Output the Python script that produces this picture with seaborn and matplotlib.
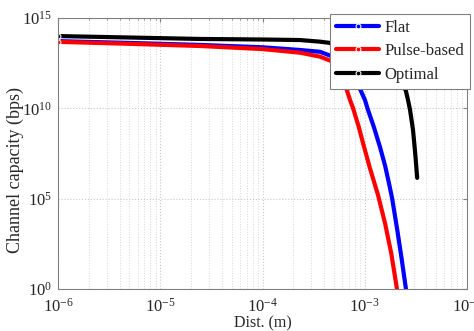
import numpy as np
import pandas as pd
import matplotlib
matplotlib.use("Agg")
import matplotlib.pyplot as plt
import seaborn as sns

# values (log10 of distance in m, log10 of capacity in bps)
flat_logd = [-6.0, -5.3, -4.611, -4.0, -3.633, -3.438, -3.311, -3.225, -3.13, -3.042,
             -2.998, -2.968, -2.91, -2.851, -2.80, -2.763, -2.733, -2.68, -2.64, -2.597]
flat_logc = [13.72, 13.62, 13.51, 13.38, 13.23, 13.13, 12.86, 12.40, 11.75, 11.02,
             10.46, 9.91, 8.95, 7.86, 6.80, 5.85, 5.04, 3.20, 1.70, 0.0]

pulse_logd = [-6.0, -5.3, -4.611, -4.0, -3.633, -3.438, -3.311, -3.225, -3.176, -3.144,
              -3.115, -3.06, -3.017, -2.95, -2.87, -2.80, -2.74, -2.685]
pulse_logc = [13.68, 13.57, 13.45, 13.28, 13.08, 12.86, 12.58, 11.96, 11.02, 10.46,
              10.02, 9.00, 8.08, 6.70, 5.20, 3.60, 1.95, 0.0]

opt_logd = [-6.0, -5.3, -4.611, -4.0, -3.633, -3.438, -3.34, -3.225, -3.1, -2.95,
            -2.8, -2.7, -2.63, -2.60, -2.577, -2.557, -2.528, -2.508, -2.487]
opt_logc = [14.00, 13.92, 13.84, 13.81, 13.78, 13.69, 13.62, 13.14, 12.70, 12.30,
            11.85, 11.50, 11.20, 11.02, 10.46, 9.91, 8.80, 7.60, 6.15]

series_names = ["Flat", "Pulse-based", "Optimal"]
series_colors = ["#0000ff", "#ff0000", "#000000"]

sns.set_style("white")
plt.rcParams["font.family"] = ["Liberation Serif", "DejaVu Serif"]
plt.rcParams["mathtext.fontset"] = "stix"

fig = plt.figure(figsize=(4.74, 3.31), dpi=100)
ax = fig.add_axes([58 / 474, 1 - 289 / 331, (467 - 58) / 474, (289 - 18) / 331])
ax.set_xscale("log")
ax.set_yscale("log")

data = [(flat_logd, flat_logc), (pulse_logd, pulse_logc), (opt_logd, opt_logc)]
for (ld, lc), name, col in zip(data, series_names, series_colors):
    df = pd.DataFrame({"d": 10.0 ** np.array(ld), "c": 10.0 ** np.array(lc)})
    sns.lineplot(data=df, x="d", y="c", ax=ax, color=col, lw=3, label=name,
                 marker=".", markersize=7, markevery=[0], sort=False,
                 estimator=None, solid_capstyle="round")

ax.set_xlim(1e-6, 1e-2)
ax.set_ylim(1e0, 1e15)
ax.set_xticks([1e-6, 1e-5, 1e-4, 1e-3, 1e-2])
ax.set_yticks([1e0, 1e5, 1e10, 1e15])
ax.yaxis.set_minor_locator(matplotlib.ticker.NullLocator())
ax.xaxis.set_minor_locator(matplotlib.ticker.LogLocator(base=10, subs=np.arange(2, 10)))
ax.xaxis.set_minor_formatter(matplotlib.ticker.NullFormatter())

ax.grid(True, which="major", ls=":", color="#c8c8c8", lw=0.8)
ax.grid(True, which="minor", axis="x", ls=":", color="#d8d8d8", lw=0.7)
ax.tick_params(which="both", direction="in", length=3, color="#808080",
               labelsize=12, pad=4, top=True, right=True)
ax.tick_params(axis="x", which="major", pad=6)
ax.tick_params(which="minor", length=1.5)
for s in ax.spines.values():
    s.set_color("#808080")
    s.set_linewidth(0.8)

ax.set_xlabel("Dist. (m)", fontsize=11.5, labelpad=0)
ax.set_ylabel("Channel capacity (bps)", fontsize=13)
ax.yaxis.set_label_coords(-0.082, 0.44)

leg = ax.legend(loc="upper right", bbox_to_anchor=(470 / 474, 1 - 14 / 331),
                bbox_transform=fig.transFigure, fontsize=12, frameon=True,
                fancybox=False, framealpha=1, edgecolor="#808080",
                handlelength=2.6, handletextpad=0.3, borderpad=0.35,
                labelspacing=0.45, borderaxespad=0)
leg.get_frame().set_linewidth(0.8)

fig.savefig("out.png", dpi=100)
